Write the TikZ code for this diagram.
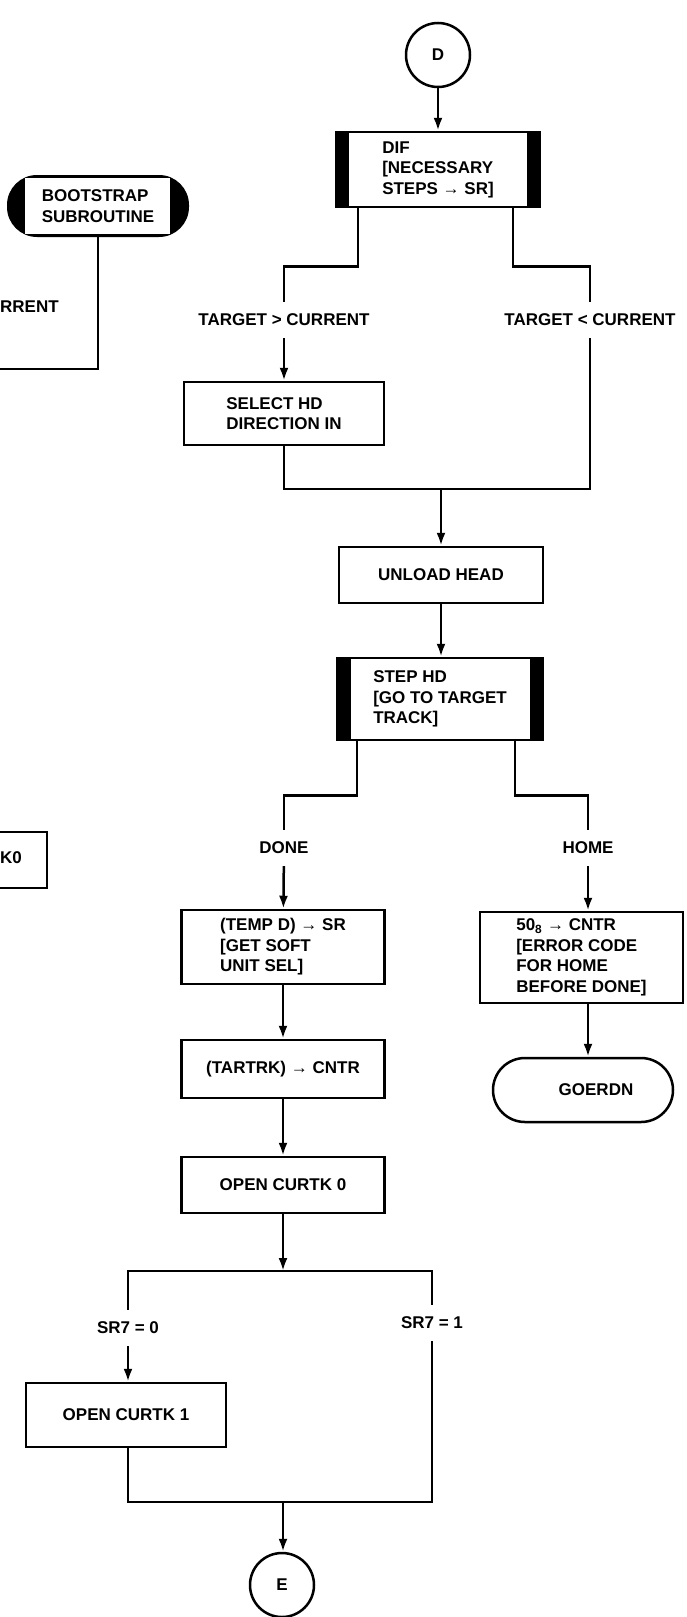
\documentclass[tikz,border=0pt]{standalone}
\usepackage{fontspec}
\setmainfont{Liberation Sans}
\usetikzlibrary{arrows.meta}

\begin{document}
\begin{tikzpicture}[x=1pt,y=-1pt,
  every node/.style={font=\fontsize{17}{20.5}\selectfont\bfseries},
  conn/.style={line width=2.5pt},
  arr/.style={conn,-{Latex[length=13pt,width=9pt]}},
  box/.style 2 args={draw,line width=2.5pt,align=left,inner sep=0pt,minimum width=#1,minimum height=#2},
  subbox/.style 2 args={box={#1}{#2},path picture={
      \fill (path picture bounding box.north west) rectangle ([xshift=13pt]path picture bounding box.south west);
      \fill (path picture bounding box.north east) rectangle ([xshift=-13pt]path picture bounding box.south east);}},
  termbox/.style={draw,line width=2.5pt,rounded corners=32pt,minimum width=180,minimum height=64,inner sep=0pt},
  capbox/.style={fill=black,rounded corners=30pt,minimum width=182,minimum height=62,align=left,inner sep=0pt,
    path picture={\fill[white,sharp corners] ([xshift=18pt,yshift=-3pt]path picture bounding box.north west)
      rectangle ([xshift=-19pt,yshift=3pt]path picture bounding box.south east);}},
  circ/.style={draw,circle,line width=2.5pt,minimum size=64,inner sep=0pt},
  cond/.style={inner xsep=2pt,inner ysep=12pt}]
\path[use as bounding box] (0,0) rectangle (686,1617);
\fill[white] (0,0) rectangle (686,1617);

% left edge, cut off
\node[capbox] (boot) at (98,206) {BOOTSTRAP\\SUBROUTINE};
\node[anchor=west,inner sep=0pt] (cutlbl) at (0,307) {RRENT};
\coordinate (bsout) at (0,369);
\draw[conn] (boot) |- (bsout);
\draw[conn] (0,832) -| (47,888) -- (0,888);
\node[anchor=west,inner sep=0pt] (kzlbl) at (0,858) {K0};

% main column
\node[circ] (D) at (438,55) {D};
\node[subbox={204}{75}] (dif) at (438,169.5) {DIF\\{[}NECESSARY\\STEPS → SR]};
\node[cond] (gtlbl) at (284,320) {TARGET > CURRENT};
\node[cond] (ltlbl) at (590,320) {TARGET < CURRENT};
\node[box={200}{63}] (sel) at (284,413.5) {SELECT HD\\DIRECTION IN};
\coordinate (mergeA) at (441,489);
\node[box={204}{56}] (unload) at (441,575) {UNLOAD HEAD};
\node[subbox={205}{82}] (step) at (440,699) {STEP HD\\{[}GO TO TARGET\\TRACK]};
\node[cond] (donelbl) at (284,848) {DONE};
\node[cond] (homelbl) at (588,848) {HOME};
\node[box={203}{74}] (temp) at (283,947) {(TEMP D) → SR\\{[}GET SOFT\\UNIT SEL]};
\node[box={203}{58}] (tartrk) at (283,1069) {(TARTRK) → CNTR};
\node[box={203}{56}] (open0) at (283,1185) {OPEN CURTK 0};
\node[box={203}{91}] (errbox) at (581.5,957.5) {50\textsubscript{8} → CNTR\\{[}ERROR CODE\\FOR HOME\\BEFORE DONE]};
\node[termbox] (goerdn) at (583,1090) {\hspace*{26pt}GOERDN};
\coordinate (splitB) at (283,1271);
\node[cond] (sr0lbl) at (128,1328) {SR7 = 0};
\node[cond] (sr1lbl) at (432,1323) {SR7 = 1};
\node[box={200}{64}] (open1) at (126,1415) {OPEN CURTK 1};
\coordinate (joinB) at (283,1502);
\node[circ] (E) at (282,1585) {E};

% connectors
\draw[arr] (D) -- (D |- dif.north);
\draw[conn] ([xshift=-80pt]dif.south) -- ++(0,58) -| (gtlbl);
\draw[conn] ([xshift=75pt]dif.south) -- ++(0,58) -| (ltlbl);
\draw[arr] (gtlbl) -- (sel);
\draw[conn] (sel) |- (mergeA) -| (ltlbl);
\draw[arr] (mergeA) -- (unload);
\draw[arr] (unload) -- (unload |- step.north);
\draw[conn] ([xshift=-83pt]step.south) -- ++(0,54) -| (donelbl);
\draw[conn] ([xshift=75pt]step.south) -- ++(0,54) -| (homelbl);
\draw[arr] (donelbl) -- (temp);
\draw[arr] (homelbl) -- (homelbl |- errbox.north);
\draw[arr] (temp) -- (tartrk);
\draw[arr] (tartrk) -- (open0);
\draw[arr] (errbox.south -| homelbl) -- (goerdn.north -| homelbl);
\draw[arr] (open0) -- (splitB);
\draw[conn] (sr0lbl) |- (splitB) -| (sr1lbl);
\draw[arr] (sr0lbl) -- (sr0lbl |- open1.north);
\draw[conn] (open1.south -| sr0lbl) |- (joinB) -| (sr1lbl);
\draw[arr] (joinB) -- (joinB |- E.north);
\end{tikzpicture}
\end{document}
